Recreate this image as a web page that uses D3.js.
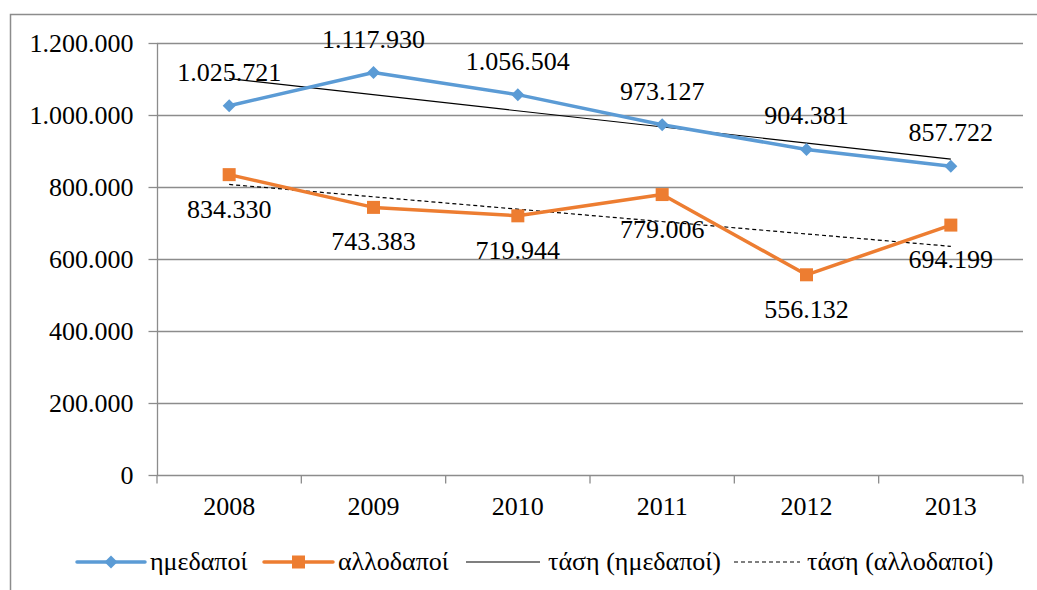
<!DOCTYPE html>
<html><head><meta charset="utf-8">
<script src="https://cdn.jsdelivr.net/npm/d3@7"></script>
<style>body{margin:0;background:#fff}svg{display:block}svg text{font-family:"Liberation Serif",serif !important}</style>
</head><body><svg id="c" width="1037" height="590"></svg>
<script>
const years = ["2008","2009","2010","2011","2012","2013"];
const natives = [1025721,1117930,1056504,973127,904381,857722];
const foreigners = [834330,743383,719944,779006,556132,694199];
const yTicks = [0,200000,400000,600000,800000,1000000,1200000];
const seriesNames = ["ημεδαποί","αλλοδαποί","τάση (ημεδαποί)","τάση (αλλοδαποί)"];

const FONT = "Liberation Serif";
const svg = d3.select("#c");
const W=1037,H=590, L=157,R=1023,T=43,B=475;
const fs = 26;
const fmt = v => d3.format(",")(v).replace(/,/g,".");
const x = d3.scaleBand().domain(years).range([L,R]);
const y = d3.scaleLinear().domain([0,1200000]).range([B,T]);
const cx = d => x(d)+x.bandwidth()/2;
const txt = sel => sel.attr("font-family",FONT).style("font-family","'Liberation Serif', serif").attr("font-size",fs).attr("fill","#000");

// outer border
svg.append("path").attr("d",`M10.5,${H} V14.5 H${W}`).attr("fill","none").attr("stroke","#8c8c8c").attr("stroke-width",1.5);

// gridlines
svg.append("g").selectAll("line").data(yTicks.filter(d=>d>0)).join("line")
  .attr("x1",L).attr("x2",R).attr("y1",d=>Math.round(y(d))+0.5).attr("y2",d=>Math.round(y(d))+0.5)
  .attr("stroke","#8c8c8c").attr("stroke-width",1.3);

// y axis
const ya = svg.append("g").attr("transform",`translate(${L+0.5},0)`)
  .call(d3.axisLeft(y).tickValues(yTicks).tickSize(9).tickPadding(15).tickFormat(fmt));
ya.attr("font-family",null).attr("font-size",null);
ya.selectAll("text").call(txt).attr("dy","0.34em");
ya.selectAll("line,path").attr("stroke","#8c8c8c").attr("stroke-width",1.3);
ya.select(".domain").attr("d",`M0,${T}V${B}`);

// x axis
const xa = svg.append("g").attr("transform",`translate(0,${B+0.5})`);
xa.append("line").attr("x1",L).attr("x2",R).attr("stroke","#8c8c8c").attr("stroke-width",1.3);
const edges = years.map(d=>x(d)).concat([R]);
xa.selectAll("line.t").data(edges).join("line").attr("class","t")
  .attr("x1",d=>d).attr("x2",d=>d).attr("y1",0).attr("y2",8).attr("stroke","#8c8c8c").attr("stroke-width",1.3);
xa.selectAll("text").data(years).join("text").attr("x",cx).attr("y",39)
  .attr("text-anchor","middle").call(txt).text(d=>d);

// trend lines (least squares)
function trend(vals){
  const n=vals.length, xs=d3.range(n);
  const mx=d3.mean(xs), my=d3.mean(vals);
  const b=d3.sum(xs,i=>(i-mx)*(vals[i]-my))/d3.sum(xs,i=>(i-mx)**2);
  const a=my-b*mx;
  return [a, a+b*(n-1)];
}
const tN=trend(natives), tF=trend(foreigners);
svg.append("line").attr("x1",cx(years[0])).attr("x2",cx(years[5])).attr("y1",y(tN[0])).attr("y2",y(tN[1]))
  .attr("stroke","#000").attr("stroke-width",1.2);
svg.append("line").attr("x1",cx(years[0])).attr("x2",cx(years[5])).attr("y1",y(tF[0])).attr("y2",y(tF[1]))
  .attr("stroke","#000").attr("stroke-width",1.2).attr("stroke-dasharray","4,3");

const line = d3.line().x((d,i)=>cx(years[i])).y(d=>y(d));
const blue="#5b9bd5", orange="#ed7d31";
svg.append("path").datum(natives).attr("d",line).attr("fill","none").attr("stroke",blue).attr("stroke-width",3.5).attr("stroke-linejoin","round");
svg.append("path").datum(foreigners).attr("d",line).attr("fill","none").attr("stroke",orange).attr("stroke-width",3.5).attr("stroke-linejoin","round");

const diamond = s => `M0,${-s}L${s},0L0,${s}L${-s},0Z`;
svg.append("g").selectAll("path").data(natives).join("path")
  .attr("transform",(d,i)=>`translate(${cx(years[i])},${y(d)})`).attr("d",diamond(6.5)).attr("fill",blue);
svg.append("g").selectAll("rect").data(foreigners).join("rect")
  .attr("x",(d,i)=>cx(years[i])-6.5).attr("y",d=>y(d)-6.5).attr("width",13).attr("height",13).attr("fill",orange);

// data labels
svg.append("g").selectAll("text").data(natives).join("text")
  .attr("x",(d,i)=>cx(years[i])).attr("y",d=>y(d)-25).attr("text-anchor","middle").call(txt).text(fmt);
svg.append("g").selectAll("text").data(foreigners).join("text")
  .attr("x",(d,i)=>cx(years[i])).attr("y",d=>y(d)+43).attr("text-anchor","middle").call(txt).text(fmt);

// legend
const ly=562;
const lg=svg.append("g");
lg.append("line").attr("x1",77).attr("x2",145).attr("y1",ly).attr("y2",ly).attr("stroke",blue).attr("stroke-width",3.5).attr("stroke-linecap","round");
lg.append("path").attr("transform",`translate(111,${ly})`).attr("d",diamond(6.5)).attr("fill",blue);
lg.append("text").attr("x",150).attr("y",ly+8).call(txt).text(seriesNames[0]);
lg.append("line").attr("x1",264).attr("x2",333).attr("y1",ly).attr("y2",ly).attr("stroke",orange).attr("stroke-width",3.5).attr("stroke-linecap","round");
lg.append("rect").attr("x",292).attr("y",ly-6.5).attr("width",13).attr("height",13).attr("fill",orange);
lg.append("text").attr("x",338).attr("y",ly+8).call(txt).text(seriesNames[1]);
lg.append("line").attr("x1",466).attr("x2",540).attr("y1",ly).attr("y2",ly).attr("stroke","#000").attr("stroke-width",1.2);
lg.append("text").attr("x",548).attr("y",ly+8).call(txt).text(seriesNames[2]);
lg.append("line").attr("x1",734).attr("x2",800).attr("y1",ly).attr("y2",ly).attr("stroke","#000").attr("stroke-width",1.2).attr("stroke-dasharray","4,3");
lg.append("text").attr("x",807).attr("y",ly+8).call(txt).text(seriesNames[3]);
</script></body></html>
